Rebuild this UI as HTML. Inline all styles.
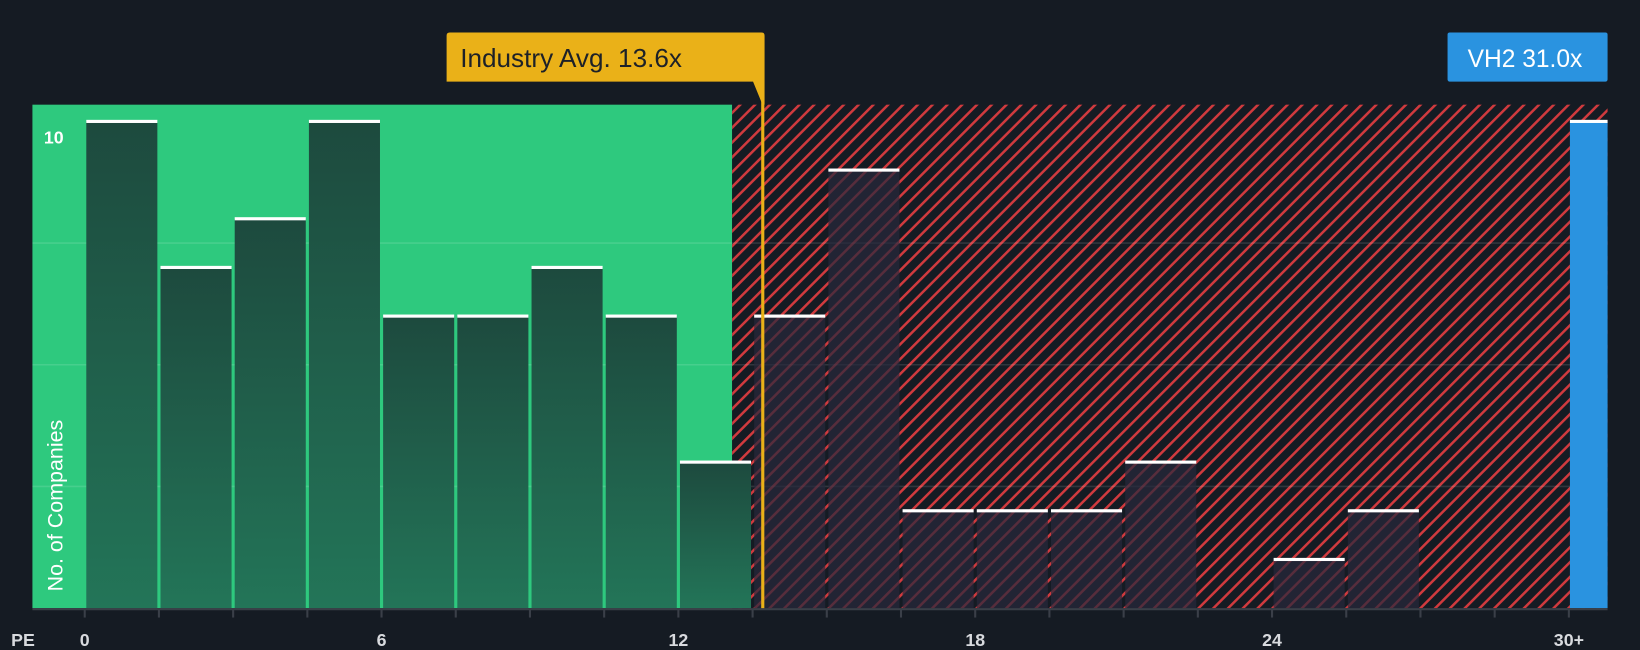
<!DOCTYPE html>
<html><head><meta charset="utf-8"><style>
html,body{margin:0;padding:0;background:#151b23;}
svg{display:block;}
text{font-family:"Liberation Sans",sans-serif;}
</style></head><body>
<svg id="chart" width="1640" height="650" viewBox="0 0 1568 621" preserveAspectRatio="none" xmlns="http://www.w3.org/2000/svg">
<defs>
<pattern id="hatch" patternUnits="userSpaceOnUse" width="10" height="10" patternTransform="rotate(45)">
<rect width="10" height="10" fill="#151b23"/>
<rect x="0" y="0" width="2.4" height="10" fill="#d03a3e"/>
</pattern>
<linearGradient id="gbar" x1="0" y1="0" x2="0" y2="1"><stop offset="0" stop-color="#1d4a3e"/><stop offset="1" stop-color="#237558"/></linearGradient>
</defs>
<rect width="1568" height="621" fill="#151b23"/>
<g id="plot"></g>
</svg>
<script>
const binStarts = [0,1.5,3,4.5,6,7.5,9,10.5,12,13.5,15,16.5,18,19.5,21,22.5,24,25.5];
const counts =    [10,7,8,10,6,6,7,6,3,6,9,2,2,2,3,0,1,2];
const companyValue = 31.0;
const companyCount = 10;
const industryAvg = 13.6;
const xTicks = ["0","6","12","18","24","30+"];
const xTickVals = [0,6,12,18,24,30];

const NS="http://www.w3.org/2000/svg";
const g=document.getElementById('plot');
const X0=81, PX=47.3, Y0=581, PY=46.5, TOP=100;
const xs=v=>X0+v*PX, ys=v=>Y0-v*PY;
function mk(t,a){const e=document.createElementNS(NS,t);for(const k in a)e.setAttribute(k,a[k]);g.appendChild(e);return e;}
const avgX=xs(industryAvg)+5;
let r=mk('rect',{x:31,y:TOP,width:700-31,height:Y0-TOP,fill:'#2ec97e'});


r=mk('rect',{x:700,y:TOP,width:1537-700,height:Y0-TOP,fill:'url(#hatch)'});


[2.5,5,7.5].forEach(v=>{const l=mk('line',{x1:31,x2:1537,y1:ys(v),y2:ys(v),stroke:'rgba(255,255,255,0.12)','stroke-width':1.5});

});
binStarts.forEach((s,i)=>{
 const c=counts[i]; if(!c) return;
 const x=xs(s)+1.5, w=1.5*PX-3, y=ys(c);
 const inGreen = x<700;
 const b=mk('rect',{x:x,y:y,width:w,height:Y0-y,fill:inGreen?'url(#gbar)':'rgba(40,40,60,0.72)'});
 
 
 const t=mk('rect',{x:x,y:y-1.5,width:w,height:3,fill:'#ffffff'});
 
 
});
const cb=mk('rect',{x:1501,y:ys(companyCount),width:36,height:Y0-ys(companyCount),fill:'#2a93e0'});


const cbt=mk('rect',{x:1501,y:ys(companyCount)-1.5,width:36,height:3,fill:'#fff'});


const ax=mk('line',{x1:31,x2:1537,y1:582,y2:582,stroke:'#3a3f48','stroke-width':2});


for(let v=0;v<=30;v+=1.5){const tk=mk('line',{x1:xs(v),x2:xs(v),y1:582,y2:590,stroke:'#3a3f48','stroke-width':2});

}
xTicks.forEach((lab,i)=>{const t=mk('text',{x:xs(xTickVals[i]),y:617,fill:'#d8dade','font-size':17,'font-weight':'bold','text-anchor':'middle'});t.textContent=lab;

});
let t=mk('text',{x:22,y:617,fill:'#d8dade','font-size':17,'font-weight':'bold','text-anchor':'middle'});t.textContent='PE';


t=mk('text',{x:42,y:137,fill:'#ffffff','font-size':17,'font-weight':'bold'});t.textContent='10';


t=mk('text',{x:60,y:565,fill:'#ffffff','font-size':20.5,transform:'rotate(-90 60 565)'});t.textContent='No. of Companies';


const al=mk('rect',{x:avgX-1.5,y:65,width:3,height:Y0-65,fill:'#eab118'});


const ap=mk('path',{d:`M427 34 Q427 31 430 31 L728 31 Q731 31 731 34 L731 100 L729 100 L720 78 L427 78 Z`,fill:'#eab118'});


t=mk('text',{x:440,y:64,fill:'#1d2128','font-size':25});t.textContent='Industry Avg. '+industryAvg.toFixed(1)+'x';


const cl=mk('rect',{x:1384,y:31,width:153,height:47,rx:2,fill:'#2a93e0'});


t=mk('text',{x:1458,y:64,fill:'#ffffff','font-size':23.5,'text-anchor':'middle'});t.textContent='VH2 '+companyValue.toFixed(1)+'x';


</script>
</body></html>
